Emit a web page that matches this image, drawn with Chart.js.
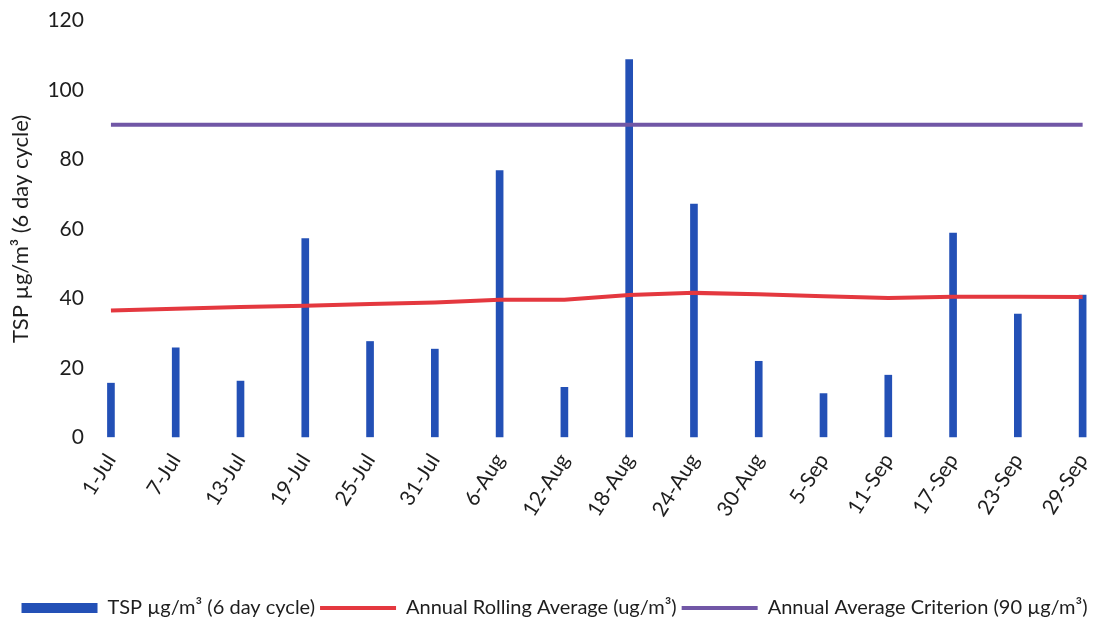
<!DOCTYPE html>
<html>
<head>
<meta charset="utf-8">
<script src="https://cdn.jsdelivr.net/npm/chart.js@4"></script>
<style>
  html, body { margin: 0; padding: 0; background: #ffffff; }
  #wrap { width: 1108px; height: 620px; position: relative; }
</style>
</head>
<body>
<div id="wrap"><canvas id="c"></canvas></div>
<script>
// Sampling dates (6 day cycle)
const dates = ['1-Jul', '7-Jul', '13-Jul', '19-Jul', '25-Jul', '31-Jul', '6-Aug', '12-Aug',
  '18-Aug', '24-Aug', '30-Aug', '5-Sep', '11-Sep', '17-Sep', '23-Sep', '29-Sep'];

// TSP concentration per sample, µg/m³
const tsp = [15.6, 25.8, 16.2, 57.2, 27.6, 25.4, 76.8, 14.4,
  108.8, 67.2, 21.9, 12.6, 17.9, 58.8, 35.5, 41.0];

// Annual rolling average, µg/m³
const rollingAvg = [36.5, 37.0, 37.5, 37.9, 38.4, 38.8, 39.6, 39.6,
  41.0, 41.6, 41.2, 40.6, 40.1, 40.5, 40.5, 40.4];

// Annual average criterion, µg/m³
const criterion = [90, 90, 90, 90, 90, 90, 90, 90, 90, 90, 90, 90, 90, 90, 90, 90];

const yTicks = [0, 20, 40, 60, 80, 100, 120];

const FONT = 'Lato, "Open Sans", sans-serif';
const TEXT = '#1e1e1e';

new Chart(document.getElementById('c'), {
  data: {
    labels: dates,
    datasets: [
      {
        type: 'bar',
        label: 'TSP µg/m³ (6 day cycle)',
        data: tsp,
        backgroundColor: '#2350b6',
        barThickness: 7,
        pointStyle: 'rect',
        clip: false,
        order: 3
      },
      {
        type: 'line',
        label: 'Annual Rolling Average (ug/m³)',
        data: rollingAvg,
        borderColor: '#e4383f',
        backgroundColor: '#e4383f',
        borderWidth: 4,
        pointRadius: 0,
        pointStyle: 'line',
        tension: 0,
        clip: false,
        order: 1
      },
      {
        type: 'line',
        label: 'Annual Average Criterion (90 µg/m³)',
        data: criterion,
        borderColor: '#7157a6',
        backgroundColor: '#7157a6',
        borderWidth: 4,
        pointRadius: 0,
        pointStyle: 'line',
        clip: false,
        order: 2
      }
    ]
  },
  options: {
    responsive: true,
    maintainAspectRatio: false,
    animation: false,
    layout: { padding: { left: 8, right: 7, top: 0, bottom: -8 } },
    plugins: {
      tooltip: { enabled: false },
      legend: {
        position: 'bottom',
        align: 'center',
        labels: {
          usePointStyle: true,
          pointStyleWidth: 76,
          boxHeight: 10,
          padding: 5,
          color: TEXT,
          font: { family: FONT, size: 20 },
          sort: (a, b) => a.datasetIndex - b.datasetIndex
        }
      }
    },
    scales: {
      x: {
        offset: false,
        grid: { display: false },
        border: { display: false },
        ticks: {
          color: TEXT,
          font: { family: FONT, size: 21 },
          minRotation: 58,
          maxRotation: 58,
          autoSkip: false,
          padding: 4
        },
        afterFit: (scale) => { scale.height += 68; }
      },
      y: {
        min: 0,
        max: 120,
        grid: {
          display: true,
          drawOnChartArea: false,
          drawTicks: true,
          tickLength: 19,
          tickColor: 'rgba(0,0,0,0)'
        },
        border: { display: false },
        afterBuildTicks: (scale) => { scale.ticks = yTicks.map(v => ({ value: v })); },
        ticks: {
          color: TEXT,
          font: { family: FONT, size: 21 },
          padding: 8
        },
        title: {
          display: true,
          text: 'TSP µg/m³ (6 day cycle)',
          color: TEXT,
          font: { family: FONT, size: 22 },
          padding: { top: 0, bottom: 5 }
        }
      }
    }
  }
});
</script>
</body>
</html>
